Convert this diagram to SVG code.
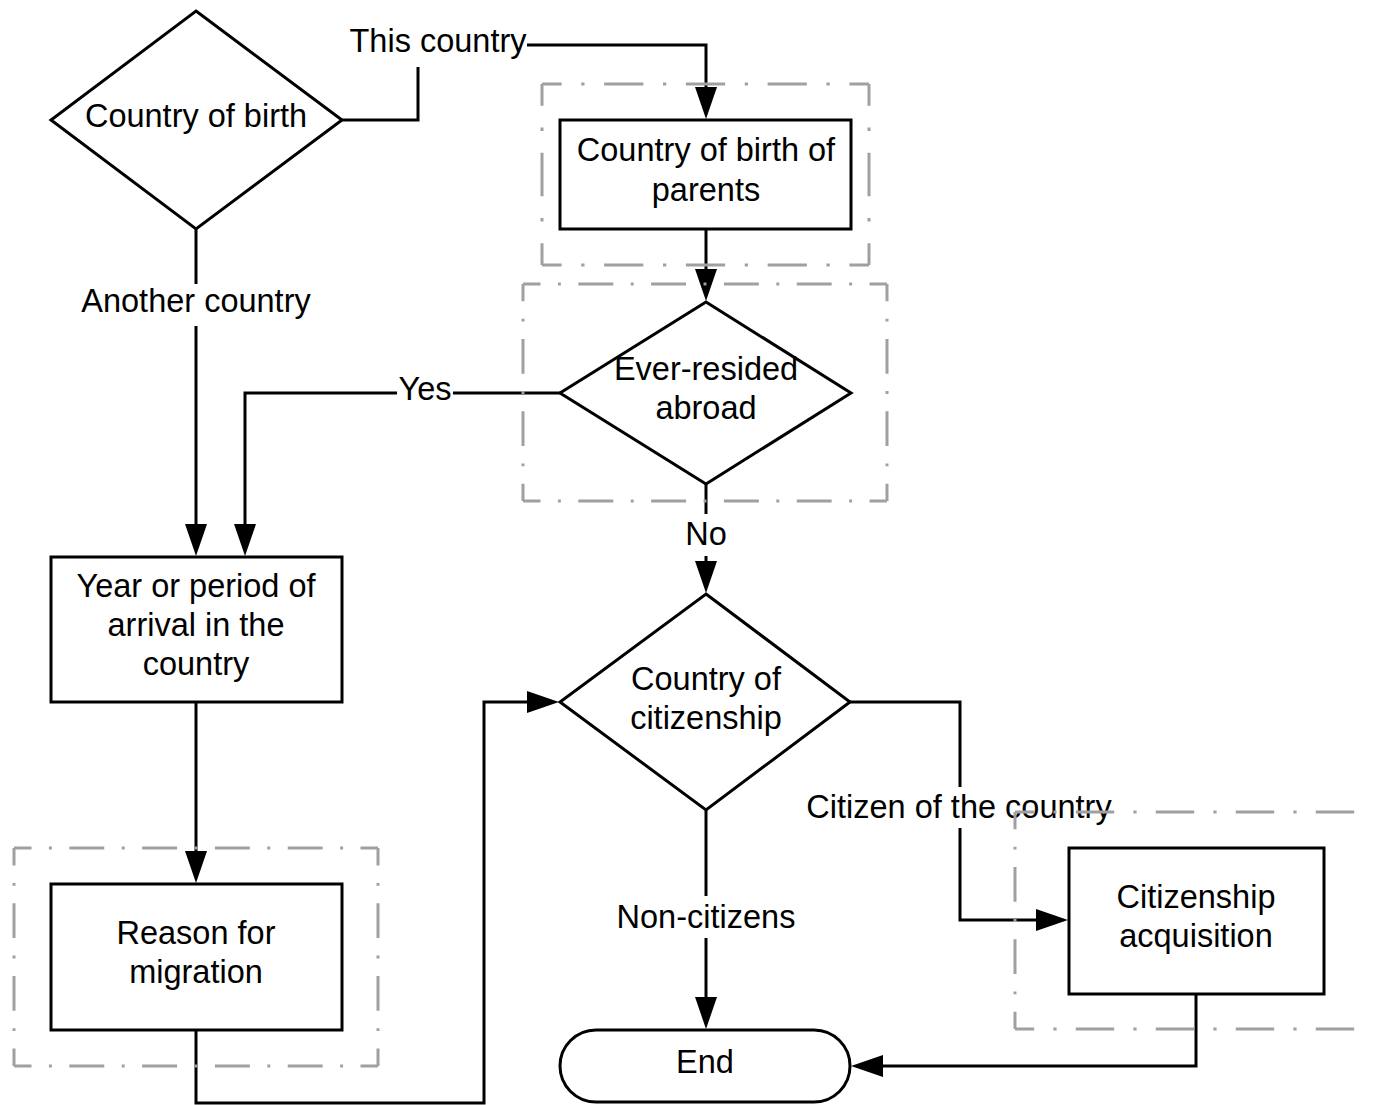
<svg xmlns="http://www.w3.org/2000/svg" width="1373" height="1105" viewBox="0 0 1373 1105">
<defs>
<marker id="arr" markerUnits="userSpaceOnUse" markerWidth="32" markerHeight="22" refX="22" refY="11" orient="auto">
<path d="M0,0 L32,11 L0,22 z" fill="#000"/>
</marker>
</defs>
<style>
.node{fill:#fff;stroke:#000;stroke-width:3}
.conn{fill:none;stroke:#000;stroke-width:3}
.arrow{marker-end:url(#arr)}
.grp line{fill:none;stroke:#a0a0a0;stroke-width:3;stroke-dasharray:36 18 3 18;stroke-dashoffset:18}
text{font-family:"Liberation Sans",Arial,sans-serif;font-size:32.5px;fill:#000;text-anchor:middle}
.lbg{fill:#fff}
</style>
<rect width="1373" height="1105" fill="#fff"/>
<g id="connectors">
<path class="conn arrow" d="M342,120 L418,120 L418,45 L706,45 L706,109"/>
<path class="conn arrow" d="M196,229 L196,546"/>
<path class="conn arrow" d="M560,393 L245,393 L245,546"/>
<path class="conn arrow" d="M706,229 L706,291"/>
<path class="conn arrow" d="M706,484 L706,583"/>
<path class="conn arrow" d="M196,702 L196,873"/>
<path class="conn arrow" d="M706,810 L706,1019"/>
<path class="conn arrow" d="M850,702 L960,702 L960,920 L1058,920"/>
<path class="conn arrow" d="M1196,994 L1196,1066 L861,1066"/>
<path class="conn arrow" d="M196,1030 L196,1103 L484,1103 L484,702 L549,702"/>
</g>
<g id="labels">
<rect class="lbg" x="349" y="20" width="178" height="47"/>
<text x="438" y="52">This country</text>
<rect class="lbg" x="77" y="284" width="238" height="42"/>
<text x="196" y="312">Another country</text>
<rect class="lbg" x="397" y="370" width="56" height="40"/>
<text x="425" y="400">Yes</text>
<rect class="lbg" x="684" y="514" width="44" height="42"/>
<text x="706" y="545">No</text>
<rect class="lbg" x="616" y="896" width="180" height="42"/>
<text x="706" y="928">Non-citizens</text>
<rect class="lbg" x="806" y="787" width="306" height="41"/>
<text x="959" y="818">Citizen of the country</text>
</g>
<g id="groups">
<g id="grp-parents" class="grp">
<line x1="542" y1="84" x2="869" y2="84" pathLength="300"/>
<line x1="542" y1="265" x2="869" y2="265" pathLength="300"/>
<line x1="542" y1="84" x2="542" y2="265" pathLength="150"/>
<line x1="869" y1="84" x2="869" y2="265" pathLength="150"/>
</g>
<g id="grp-abroad" class="grp">
<line x1="523" y1="284" x2="887" y2="284" pathLength="375"/>
<line x1="523" y1="501" x2="887" y2="501" pathLength="375"/>
<line x1="523" y1="284" x2="523" y2="501" pathLength="225"/>
<line x1="887" y1="284" x2="887" y2="501" pathLength="225"/>
</g>
<g id="grp-reason" class="grp">
<line x1="14" y1="848" x2="378" y2="848" pathLength="375"/>
<line x1="14" y1="1066" x2="378" y2="1066" pathLength="375"/>
<line x1="14" y1="848" x2="14" y2="1066" pathLength="225"/>
<line x1="378" y1="848" x2="378" y2="1066" pathLength="225"/>
</g>
<g id="grp-acquisition" class="grp">
<line x1="1015" y1="812" x2="1415" y2="812" pathLength="375"/>
<line x1="1015" y1="1029" x2="1415" y2="1029" pathLength="375"/>
<line x1="1015" y1="812" x2="1015" y2="1029" pathLength="225"/>
</g>
</g>
<g id="n-birth">
<polygon class="node" points="196,11 342,120 196,229 51,120"/>
<text x="196" y="127">Country of birth</text>
</g>
<g id="n-parents">
<rect class="node" x="560" y="120" width="291" height="109"/>
<text x="706" y="161">Country of birth of</text>
<text x="706" y="201">parents</text>
</g>
<g id="n-abroad">
<polygon class="node" points="706,302 851,393 706,484 560,393"/>
<text x="706" y="380">Ever-resided</text>
<text x="706" y="419">abroad</text>
</g>
<g id="n-arrival">
<rect class="node" x="51" y="557" width="291" height="145"/>
<text x="196" y="597">Year or period of</text>
<text x="196" y="636">arrival in the</text>
<text x="196" y="675">country</text>
</g>
<g id="n-citizenship">
<polygon class="node" points="706,594 850,702 706,810 560,702"/>
<text x="706" y="690">Country of</text>
<text x="706" y="729">citizenship</text>
</g>
<g id="n-reason">
<rect class="node" x="51" y="884" width="291" height="146"/>
<text x="196" y="944">Reason for</text>
<text x="196" y="983">migration</text>
</g>
<g id="n-acquisition">
<rect class="node" x="1069" y="848" width="255" height="146"/>
<text x="1196" y="908">Citizenship</text>
<text x="1196" y="947">acquisition</text>
</g>
<g id="n-end">
<rect class="node" x="560" y="1030" width="290" height="72" rx="36" ry="36"/>
<text x="705" y="1073">End</text>
</g>
</svg>
